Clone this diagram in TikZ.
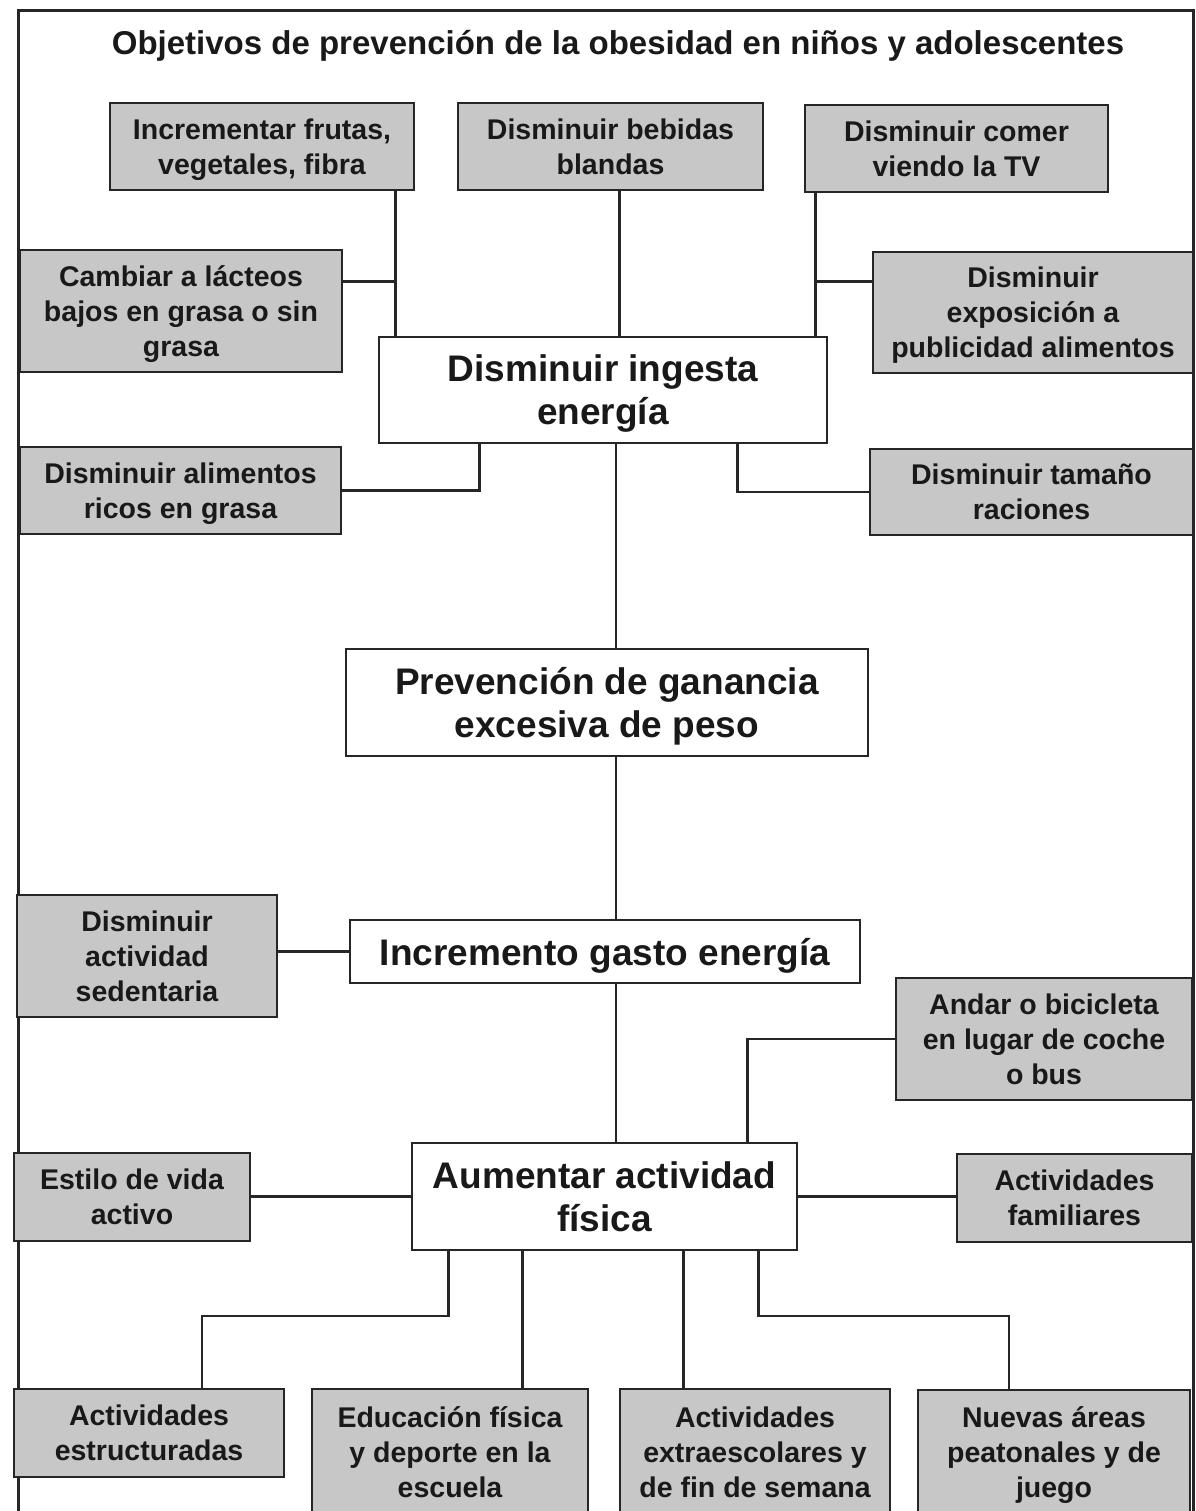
\documentclass[tikz,border=0pt]{standalone}
\usepackage{fontspec}
\setmainfont{Liberation Sans}
\begin{document}
\begin{tikzpicture}[x=1pt,y=-1pt,
  line join=miter,
  frame/.style={draw=black!85, line width=3pt},
  link/.style={draw=black!85, line width=2.6pt},
  gbox/.style={draw=black!85, line width=2.6pt, fill=boxgray, align=center,
    inner sep=0pt, text depth=0pt, text=black!90,
    font=\bfseries\fontsize{28.5}{35}\selectfont},
  wbox/.style={draw=black!85, line width=2.6pt, fill=white, align=center,
    inner sep=0pt, text depth=0pt, text=black!90,
    font=\bfseries\fontsize{37}{43}\selectfont},
  title/.style={anchor=base, inner sep=0pt, text=black!90,
    font=\bfseries\fontsize{33}{38}\selectfont}]
\definecolor{boxgray}{RGB}{199,199,199}
\useasboundingbox (0,0) rectangle (1195,1511);
\clip (0,0) rectangle (1195,1511);

% outer frame
\draw[frame] (18,1530) -- (18,11) -- (1193,11) -- (1193,1530);

\node[title] (tt) at (618,55) {Objetivos de prevención de la obesidad en niños y adolescentes};

% intake branch
\node[gbox, minimum width=304, minimum height=87] (n1) at (262,146.5) {Incrementar frutas,\\vegetales, fibra};
\node[gbox, minimum width=305, minimum height=87] (n2) at (610.5,146.5) {Disminuir bebidas\\blandas};
\node[gbox, minimum width=303, minimum height=87] (n3) at (956.5,148.5) {Disminuir comer\\viendo la TV};
\node[gbox, minimum width=322, minimum height=122] (n4) at (181,311) {Cambiar a lácteos\\bajos en grasa o sin\\grasa};
\node[gbox, minimum width=320, minimum height=121] (n5) at (1033,312.5) {Disminuir\\exposición a\\publicidad alimentos};
\node[wbox, minimum width=448, minimum height=106] (n6) at (603,390) {Disminuir ingesta\\energía};
\node[gbox, minimum width=321, minimum height=87] (n7) at (180.5,490.5) {Disminuir alimentos\\ricos en grasa};
\node[gbox, minimum width=323, minimum height=86] (n8) at (1031.5,492) {Disminuir tamaño\\raciones};

% central goal
\node[wbox, minimum width=522, minimum height=107] (n9) at (607,702.5) {Prevención de ganancia\\excesiva de peso};

% expenditure branch
\node[gbox, minimum width=260, minimum height=122] (n10) at (147,956) {Disminuir\\actividad\\sedentaria};
\node[wbox, minimum width=510, minimum height=63] (n11) at (605,951.5) {Incremento gasto energía};
\node[gbox, minimum width=296, minimum height=122] (n12) at (1044,1039) {Andar o bicicleta\\en lugar de coche\\o bus};
\node[gbox, minimum width=236, minimum height=88] (n13) at (132,1197) {Estilo de vida\\activo};
\node[wbox, minimum width=385, minimum height=107] (n14) at (604.5,1196.5) {Aumentar actividad\\física};
\node[gbox, minimum width=235, minimum height=88] (n15) at (1074.5,1198) {Actividades\\familiares};
\node[gbox, minimum width=270, minimum height=88] (n16) at (149,1433) {Actividades\\estructuradas};
\node[gbox, minimum width=276, minimum height=126] (n17) at (450,1452) {Educación física\\y deporte en la\\escuela};
\node[gbox, minimum width=270, minimum height=126] (n18) at (755,1452) {Actividades\\extraescolares y\\de fin de semana};
\node[gbox, minimum width=272, minimum height=125] (n19) at (1054,1452.5) {Nuevas áreas\\peatonales y de\\juego};

% junction points
\coordinate (spine) at (616,0);
\coordinate (j1) at ([xshift=-20pt]n1.south east);
\coordinate (k4) at ([yshift=-33pt]n4.north east);
\coordinate (j2) at ([xshift=9pt]n2.south);
\coordinate (j3) at ([xshift=12pt]n3.south west);
\coordinate (k5) at ([yshift=-31pt]n5.north west);
\coordinate (j7) at ([xshift=102pt]n6.south west);
\coordinate (j8) at ([xshift=-91pt]n6.south east);
\coordinate (j12) at ([xshift=337pt]n14.north west);
\coordinate (j16) at ([xshift=38pt]n14.south west);
\coordinate (j17) at ([xshift=112pt]n14.south west);
\coordinate (j18) at ([xshift=273pt]n14.south west);
\coordinate (j19) at ([xshift=348pt]n14.south west);
\coordinate (e16) at ([xshift=53pt]n16.north);
\coordinate (e19) at ([xshift=-45pt]n19.north);
\coordinate (lvl) at (0,1316);

% connectors
\draw[link] (j1) -- (j1 |- n6.north);
\draw[link] (k4) -- (k4 -| j1);
\draw[link] (j2) -- (j2 |- n6.north);
\draw[link] (j3) -- (j3 |- n6.north);
\draw[link] (k5) -- (k5 -| j3);
\draw[link] (j7) |- (n7.east);
\draw[link] (j8) |- (n8.west);
\draw[link] (n6.south -| spine) -- (n9.north -| spine);
\draw[link] (n9.south -| spine) -- (n11.north -| spine);
\draw[link] (n11.west) -- (n11.west -| n10.east);
\draw[link] (n11.south -| spine) -- (n14.north -| spine);
\draw[link] (j12) |- (n12.west);
\draw[link] (n14.west) -- (n14.west -| n13.east);
\draw[link] (n14.east) -- (n14.east -| n15.west);
\draw[link] (j16) -- (j16 |- lvl) -| (e16);
\draw[link] (j17) -- (j17 |- n17.north);
\draw[link] (j18) -- (j18 |- n18.north);
\draw[link] (j19) -- (j19 |- lvl) -| (e19);
\end{tikzpicture}
\end{document}
